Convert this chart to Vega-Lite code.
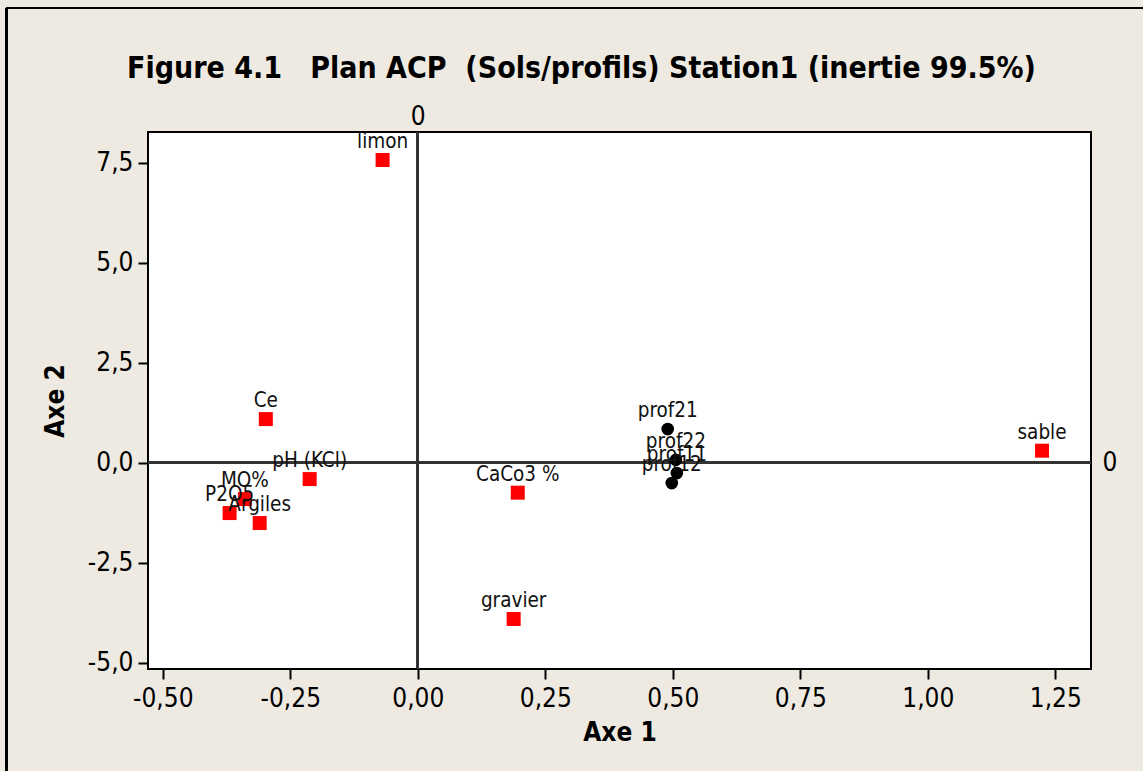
{
  "$schema": "https://vega.github.io/schema/vega-lite/v6.json",
  "autosize": "none",
  "width": 943,
  "height": 537,
  "padding": {"left": 148, "top": 132, "right": 52, "bottom": 102},
  "background": "#EEEAE1",
  "title": {
    "text": "Figure 4.1\u00a0\u00a0\u00a0Plan ACP\u00a0\u00a0(Sols/profils) Station1 (inertie 99.5%)",
    "font": "DejaVu Sans Condensed",
    "fontSize": 30,
    "fontWeight": "bold",
    "color": "#000000",
    "anchor": "middle",
    "frame": "group",
    "baseline": "alphabetic",
    "offset": -101,
    "dx": -38
  },
  "data": {
    "values": [
      {"label": "limon", "x": -0.069, "y": 7.57, "type": "var"},
      {"label": "Ce", "x": -0.298, "y": 1.09, "type": "var"},
      {"label": "pH (KCl)", "x": -0.212, "y": -0.41, "type": "var"},
      {"label": "MO%", "x": -0.339, "y": -0.91, "type": "var"},
      {"label": "P2O5", "x": -0.369, "y": -1.26, "type": "var"},
      {"label": "Argiles", "x": -0.31, "y": -1.51, "type": "var"},
      {"label": "CaCo3 %", "x": 0.196, "y": -0.75, "type": "var"},
      {"label": "gravier", "x": 0.188, "y": -3.91, "type": "var"},
      {"label": "sable", "x": 1.224, "y": 0.30, "type": "var"},
      {"label": "prof21", "x": 0.49, "y": 0.84, "type": "obs"},
      {"label": "prof22", "x": 0.506, "y": 0.07, "type": "obs"},
      {"label": "prof11", "x": 0.508, "y": -0.26, "type": "obs"},
      {"label": "prof12", "x": 0.498, "y": -0.51, "type": "obs"}
    ]
  },
  "resolve": {"scale": {"x": "shared", "y": "shared"}, "axis": {"x": "independent", "y": "independent"}},
  "layer": [
    {
      "mark": {"type": "rule", "color": "#333333", "strokeWidth": 2},
      "encoding": {
        "x": {
          "datum": 0, "type": "quantitative",
          "scale": {"domain": [-0.529, 1.32], "nice": false, "zero": false},
          "axis": {"orient": "top", "values": [0], "ticks": false, "domain": false, "grid": false, "title": null, "labelPadding": 3, "format": "d"}
        }
      }
    },
    {
      "mark": {"type": "rule", "color": "#333333", "strokeWidth": 2},
      "encoding": {
        "y": {
          "datum": 0, "type": "quantitative",
          "scale": {"domain": [-5.16, 8.27], "nice": false, "zero": false},
          "axis": {"orient": "right", "values": [0], "ticks": false, "domain": false, "grid": false, "title": null, "labelPadding": 11, "format": "d"}
        }
      }
    },
    {
      "mark": {"type": "rule", "color": "#000000", "strokeWidth": 2},
      "encoding": {
        "x": {"datum": -0.806, "type": "quantitative", "scale": {"domain": [-0.529, 1.32], "nice": false, "zero": false}, "axis": null},
        "y": {"datum": -8.5, "type": "quantitative", "scale": {"domain": [-5.16, 8.27], "nice": false, "zero": false}, "axis": null},
        "y2": {"datum": 11.37}
      }
    },
    {
      "mark": {"type": "rule", "color": "#000000", "strokeWidth": 2},
      "encoding": {
        "x": {"datum": -0.806, "type": "quantitative", "scale": {"domain": [-0.529, 1.32], "nice": false, "zero": false}, "axis": null},
        "x2": {"datum": 1.6},
        "y": {"datum": 11.37, "type": "quantitative", "scale": {"domain": [-5.16, 8.27], "nice": false, "zero": false}, "axis": null}
      }
    },
    {
      "mark": {"type": "point", "filled": true, "opacity": 1},
      "encoding": {
        "x": {
          "field": "x", "type": "quantitative",
          "scale": {"domain": [-0.529, 1.32], "nice": false, "zero": false},
          "axis": {"orient": "bottom", "title": "Axe 1", "values": [-0.5, -0.25, 0, 0.25, 0.5, 0.75, 1, 1.25], "format": ".2f",
                   "labelExpr": "replace(replace(datum.label, '.', ','), '\u2212', '-')",
                   "tickSize": 10, "labelPadding": 6, "titlePadding": 8, "grid": false, "domain": false}
        },
        "y": {
          "field": "y", "type": "quantitative",
          "scale": {"domain": [-5.16, 8.27], "nice": false, "zero": false},
          "axis": {"orient": "left", "title": "Axe 2", "values": [-5, -2.5, 0, 2.5, 5, 7.5], "format": ".1f",
                   "labelExpr": "replace(replace(datum.label, '.', ','), '\u2212', '-')",
                   "tickSize": 10, "labelPadding": 5, "titlePadding": 19, "grid": false, "domain": false}
        },
        "shape": {"field": "type", "type": "nominal", "scale": {"domain": ["var", "obs"], "range": ["square", "circle"]}, "legend": null},
        "color": {"field": "type", "type": "nominal", "scale": {"domain": ["var", "obs"], "range": ["#FF0000", "#000000"]}, "legend": null},
        "size": {"field": "type", "type": "nominal", "scale": {"domain": ["var", "obs"], "range": [196, 160]}, "legend": null}
      }
    },
    {
      "mark": {"type": "text", "align": "center", "baseline": "alphabetic", "dy": -12, "fontSize": 20.5, "color": "#111111"},
      "encoding": {
        "x": {"field": "x", "type": "quantitative", "scale": {"domain": [-0.529, 1.32], "nice": false, "zero": false}, "axis": null},
        "y": {"field": "y", "type": "quantitative", "scale": {"domain": [-5.16, 8.27], "nice": false, "zero": false}, "axis": null},
        "text": {"field": "label", "type": "nominal"}
      }
    }
  ],
  "config": {
    "font": "DejaVu Sans Condensed",
    "view": {"stroke": "#000000", "strokeWidth": 2, "fill": "#FFFFFF"},
    "axis": {
      "labelFontSize": 26,
      "labelColor": "#000000",
      "labelFont": "DejaVu Sans Condensed",
      "titleFont": "DejaVu Sans Condensed",
      "titleFontSize": 26,
      "titleFontWeight": "bold",
      "titleColor": "#000000",
      "tickColor": "#000000",
      "tickWidth": 2,
      "labelFlush": false,
      "labelOverlap": false
    }
  }
}
